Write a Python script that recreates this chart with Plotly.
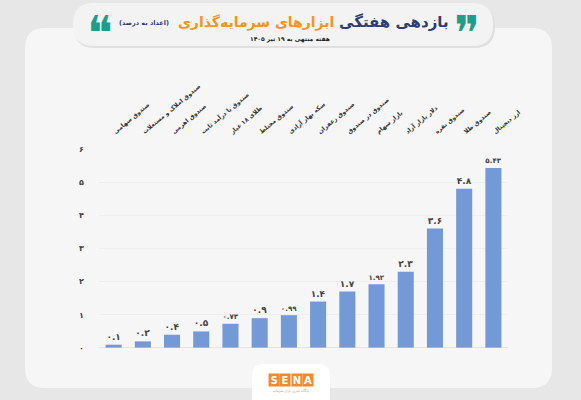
import plotly.graph_objects as go

# ---------------- data ----------------
categories = [
    "صندوق سهامی",
    "صندوق املاک و مستغلات",
    "صندوق اهرمی",
    "صندوق با درآمد ثابت",
    "طلای ۱۸ عیار",
    "صندوق مختلط",
    "سکه بهار آزادی",
    "صندوق زعفران",
    "صندوق در صندوق",
    "بازار سهام",
    "دلار بازار آزاد",
    "صندوق نقره",
    "صندوق طلا",
    "ارز دیجیتال",
]
values = [0.1, 0.2, 0.4, 0.5, 0.73, 0.9, 0.99, 1.4, 1.7, 1.92, 2.3, 3.6, 4.8, 5.43]
y_tick_values = [0, 1, 2, 3, 4, 5, 6]

title_blue = "بازدهی هفتگی"
title_orange = "ابزارهای سرمایه‌گذاری"
title_note = "(اعداد به درصد)"
subtitle = "هفته منتهی به ۱۹ تیر ۱۴۰۵"

FA = str.maketrans("0123456789", "۰۱۲۳۴۵۶۷۸۹")


def fa(v):
    s = f"{v:g}"
    return s.translate(FA)


value_labels = [fa(v) for v in values]
y_tick_text = [fa(v) for v in y_tick_values]

# ---------------- layout helpers ----------------
W, H = 581, 400
L, R, T, B = 99, 73, 149, 52
PW, PH = W - L - R, H - T - B


def px(x):
    return (x - L) / PW


def py(y):
    return (H - B - y) / PH


def rrect(x0, y0, x1, y1, r):
    pts = [
        ("M", [(x0 + r, y0)]),
        ("L", [(x1 - r, y0)]),
        ("Q", [(x1, y0), (x1, y0 + r)]),
        ("L", [(x1, y1 - r)]),
        ("Q", [(x1, y1), (x1 - r, y1)]),
        ("L", [(x0 + r, y1)]),
        ("Q", [(x0, y1), (x0, y1 - r)]),
        ("L", [(x0, y0 + r)]),
        ("Q", [(x0, y0), (x0 + r, y0)]),
    ]
    s = ""
    for cmd, ps in pts:
        s += cmd + " " + " ".join(f"{px(a):.5f},{py(b):.5f}" for a, b in ps) + " "
    return s + "Z"


FONT = "DejaVu Sans"

fig = go.Figure()
fig.add_trace(
    go.Bar(
        x=categories,
        y=values,
        marker=dict(color="#7399D7", line=dict(width=0)),
        text=value_labels,
        textposition="outside",
        textfont=dict(family=FONT, size=9, color="#444444", weight="bold"),
        cliponaxis=False,
        width=0.55,
        hoverinfo="skip",
    )
)

shapes = [
    # outer panel
    dict(type="path", xref="paper", yref="paper", path=rrect(25, 28, 552, 388, 20),
         fillcolor="#f6f6f6", line=dict(width=0), layer="below"),
    # header pill shadow
    dict(type="path", xref="paper", yref="paper", path=rrect(74, 5, 495, 48, 21),
         fillcolor="#e0e0e0", line=dict(width=0), layer="below"),
    # header pill
    dict(type="path", xref="paper", yref="paper", path=rrect(73, 3, 493, 46, 21),
         fillcolor="#f3f3f3", line=dict(width=0), layer="below"),
    # logo tab
    dict(type="path", xref="paper", yref="paper", path=rrect(252, 364, 330, 410, 12),
         fillcolor="#ffffff", line=dict(width=0), layer="below"),
    # baseline
    dict(type="line", xref="paper", yref="y", x0=0, x1=1, y0=0, y1=0,
         line=dict(color="#d9cfc2", width=1.2)),
]

annotations = [
    dict(text="❞", x=px(467), y=py(22), yshift=-11,
         font=dict(family=FONT, size=48, color="#1E9E8A")),
    dict(text=title_blue, x=px(394), y=py(22),
         font=dict(family=FONT, size=15, color="#2C3E73", weight="bold")),
    dict(text=title_orange, x=px(256), y=py(22),
         font=dict(family=FONT, size=14, color="#F39325", weight="bold")),
    dict(text=title_note, x=px(144), y=py(23),
         font=dict(family=FONT, size=6.5, color="#2C3E73", weight="bold")),
    dict(text="❝", x=px(100), y=py(22), yshift=-11,
         font=dict(family=FONT, size=48, color="#1E9E8A")),
    dict(text=subtitle, x=px(290), y=py(39),
         font=dict(family=FONT, size=6, color="#222222", weight="bold")),
]
for i, ch in enumerate("SENA"):
    annotations.append(
        dict(text=ch, x=px(273.5 + i * 11.5), y=py(379.5),
             font=dict(family=FONT, size=10, color="#ffffff", weight="bold"),
             bgcolor="#F28A2B", width=10, height=12, borderpad=0)
    )
annotations.append(
    dict(text="پایگاه خبری بازار سرمایه", x=px(291), y=py(390.5),
         font=dict(family=FONT, size=3.5, color="#F28A2B"))
)
for a in annotations:
    a.update(xref="paper", yref="paper", showarrow=False, xanchor="center", yanchor="middle")

fig.update_layout(
    width=W,
    height=H,
    margin=dict(l=L, r=R, t=T, b=B, pad=0),
    paper_bgcolor="#e7e7e7",
    plot_bgcolor="rgba(0,0,0,0)",
    showlegend=False,
    bargap=0.45,
    shapes=shapes,
    annotations=annotations,
    xaxis=dict(
        side="top",
        type="category",
        range=[-0.5, 13.5],
        tickangle=-40,
        showgrid=False,
        showline=False,
        zeroline=False,
        ticks="",
        ticklabelstandoff=12,
        tickfont=dict(family=FONT, size=6, color="#333333", weight="bold"),
    ),
    yaxis=dict(
        range=[0, 6],
        tickvals=y_tick_values,
        ticktext=y_tick_text,
        showgrid=True,
        gridcolor="#eeeeee",
        zeroline=False,
        showline=False,
        ticks="",
        ticklabelstandoff=14,
        tickfont=dict(family=FONT, size=8, color="#444444", weight="bold"),
    ),
)

fig.write_html(
    "out.html",
    config={"displayModeBar": False, "staticPlot": True},
    post_script="document.body.style.margin='0';document.body.style.overflow='hidden';",
)
